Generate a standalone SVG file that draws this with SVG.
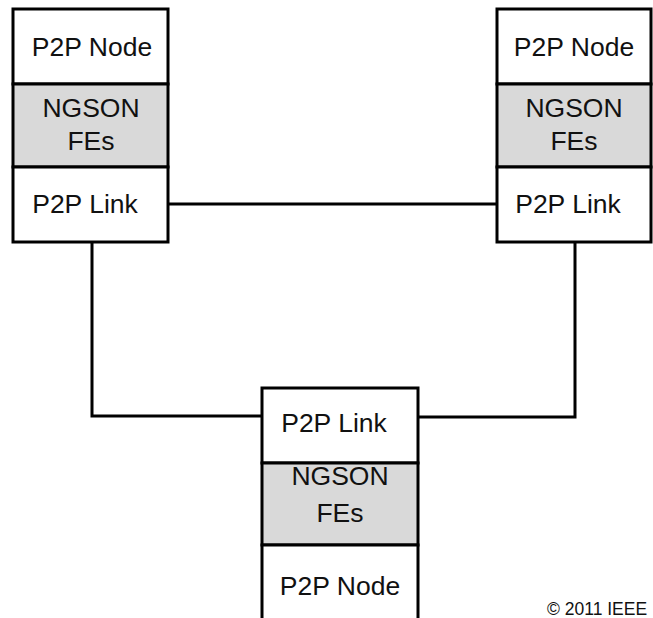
<svg xmlns="http://www.w3.org/2000/svg" width="653" height="618" viewBox="0 0 653 618">
<style>
.box{fill:#fff;stroke:#000;stroke-width:3}
.fe{fill:#d9d9d9;stroke:#000;stroke-width:3}
.ln{fill:none;stroke:#000;stroke-width:3}
text{font-family:"Liberation Sans",Arial,sans-serif;font-size:26.5px;fill:#111;text-anchor:middle}
.cp{font-size:17.5px;text-anchor:start}
</style>
<rect width="653" height="618" fill="#fff"/>
<g id="connectors">
<line class="ln" x1="168" y1="204" x2="497" y2="204"/>
<path class="ln" d="M92 242 V416 H262"/>
<path class="ln" d="M575 242 V417 H418"/>
</g>
<g id="node-left">
<rect class="box" x="13" y="9" width="155" height="75"/>
<rect class="fe" x="13" y="84" width="155" height="83"/>
<rect class="box" x="13" y="167" width="155" height="75"/>
<text x="92" y="56">P2P Node</text>
<text x="91" y="117">NGSON</text>
<text x="91" y="150">FEs</text>
<text x="85" y="213">P2P Link</text>
</g>
<g id="node-right">
<rect class="box" x="497" y="9" width="154" height="75"/>
<rect class="fe" x="497" y="84" width="154" height="83"/>
<rect class="box" x="497" y="167" width="154" height="75"/>
<text x="574" y="56">P2P Node</text>
<text x="574" y="117">NGSON</text>
<text x="574" y="150">FEs</text>
<text x="568" y="213">P2P Link</text>
</g>
<g id="node-bottom">
<rect class="box" x="262" y="388" width="156" height="75"/>
<rect class="fe" x="262" y="463" width="156" height="82"/>
<path class="box" d="M262 625 V545 H418 V625"/>
<text x="334" y="432">P2P Link</text>
<text x="340" y="485">NGSON</text>
<text x="340" y="522">FEs</text>
<text x="340" y="595">P2P Node</text>
</g>
<text class="cp" x="547" y="615">© 2011 IEEE</text>
</svg>
